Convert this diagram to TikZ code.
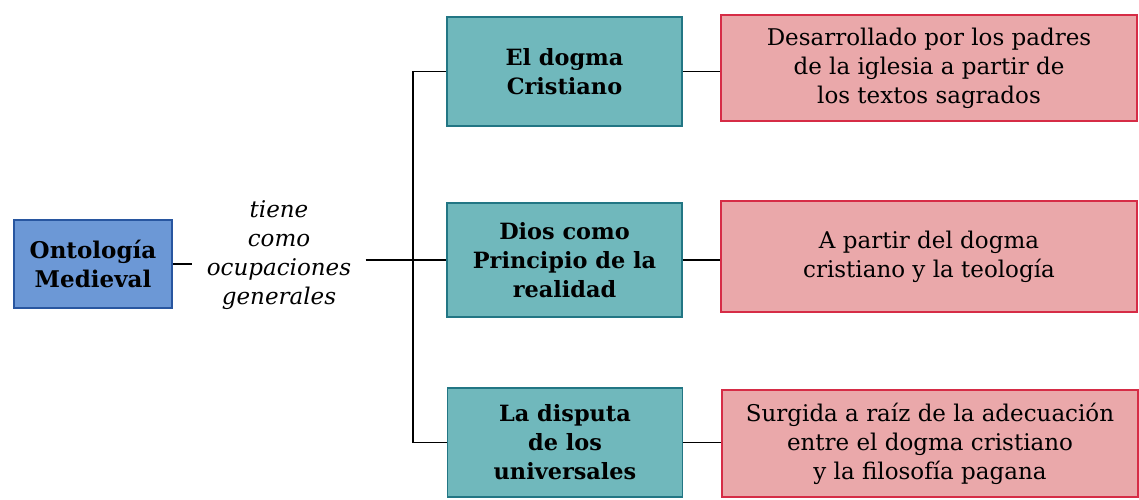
\documentclass[tikz,border=0pt]{standalone}
\usepackage{fontspec}
\setmainfont{DejaVu Serif}
\definecolor{ontofill}{RGB}{108,152,214}
\definecolor{ontoline}{RGB}{40,86,160}
\definecolor{temafill}{RGB}{112,184,188}
\definecolor{temaline}{RGB}{34,118,132}
\definecolor{notafill}{RGB}{234,168,170}
\definecolor{notaline}{RGB}{214,44,70}

\begin{document}
\begin{tikzpicture}[x=0.5pt,y=-0.5pt,
    ontobox/.style={draw=ontoline,fill=ontofill,line width=0.8pt,align=center,
        font=\bfseries\fontsize{11.5}{14.5}\selectfont,minimum width=79pt,minimum height=44pt},
    temabox/.style={draw=temaline,fill=temafill,line width=0.8pt,align=center,
        font=\bfseries\fontsize{11.2}{14.5}\selectfont,minimum width=117.5pt},
    notabox/.style={draw=notaline,fill=notafill,line width=0.8pt,align=center,
        font=\fontsize{11.5}{14.5}\selectfont,minimum width=208pt},
    enlace/.style={black,line width=0.7pt}]
    \useasboundingbox (0,0) rectangle (1139,499);

    % concepto central
    \node[ontobox] (onto) at (93,264) {Ontología\\Medieval};
    \node[align=center,inner sep=7pt,font=\itshape\fontsize{11.5}{14.5}\selectfont] (ocup) at (279,255)
        {tiene\\como\\ocupaciones\\generales};

    % ocupaciones
    \node[temabox,minimum height=54.5pt] (dogma) at (564.5,71.5) {El dogma\\Cristiano};
    \node[temabox,minimum height=57pt] (dios) at (564.5,260) {Dios como\\Principio de la\\realidad};
    \node[temabox,minimum height=54.5pt] (disputa) at (565,442.5) {La disputa\\de los\\universales};

    % explicaciones
    \node[notabox,minimum height=53pt] (desa) at (929,68)
        {Desarrollado por los padres\\de la iglesia a partir de\\los textos sagrados};
    \node[notabox,minimum height=55.5pt] (partir) at (929,256.5)
        {A partir del dogma\\cristiano y la teología};
    \node[notabox,minimum height=53.5pt] (surgida) at (930,443.5)
        {Surgida a raíz de la adecuación\\entre el dogma cristiano\\y la filosofía pagana};

    \coordinate (fork) at (413,260);

    \draw[enlace] (onto.east) -- (onto.east -| ocup.west);
    \draw[enlace] (ocup.east |- fork) -- (fork);
    \draw[enlace] (dogma.west) -- (dogma.west -| fork) -- (disputa.west -| fork) -- (disputa.west);
    \draw[enlace] (fork) -- (dios.west);
    \draw[enlace] (dogma.east) -- (desa.west |- dogma.east);
    \draw[enlace] (dios.east) -- (partir.west |- dios.east);
    \draw[enlace] (disputa.east) -- (surgida.west |- disputa.east);
\end{tikzpicture}
\end{document}
